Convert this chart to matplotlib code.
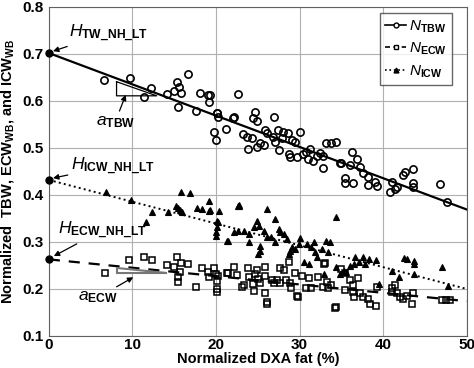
import matplotlib
matplotlib.use("Agg")
import matplotlib.pyplot as plt
import numpy as np

plt.rcParams['font.family'] = ['Liberation Sans', 'DejaVu Sans']
plt.rcParams['mathtext.fontset'] = 'custom'
plt.rcParams['mathtext.rm'] = 'Liberation Sans'
plt.rcParams['mathtext.it'] = 'Liberation Sans:italic'
plt.rcParams['mathtext.bf'] = 'Liberation Sans:bold'

# ---- data ----
tbw_x = [6.6, 9.7, 11.4, 12.2, 14.1, 15.3, 15.6, 15.0, 15.8, 15.5, 16.7, 17.6, 18.1, 19.0, 19.1,
         19.8, 20.0, 20.1, 20.2, 21.2, 22.0, 22.6, 24.6, 24.4, 26.9, 23.2, 23.7, 24.3, 23.8, 24.9,
         25.2, 25.7, 24.9, 25.8, 26.1, 26.8, 27.0, 27.4, 27.9, 28.0, 28.6, 29.1, 29.4, 30.0, 27.5,
         28.7, 28.8, 29.7, 30.4, 30.8, 31.2, 31.0, 31.6, 32.1, 32.4, 32.8, 33.2, 33.8, 34.3, 32.8,
         34.8, 36.2, 36.8, 35.0, 36.0, 37.2, 35.4, 35.4, 36.4, 37.6, 38.2, 38.2, 39.0, 39.2, 40.8,
         41.4, 41.7, 41.0, 42.3, 42.6, 43.5, 43.5, 43.5, 46.8, 47.6, 19.3, 20.1, 22.1]
tbw_y = [0.645, 0.649, 0.608, 0.627, 0.614, 0.640, 0.630, 0.621, 0.617, 0.587, 0.657, 0.579, 0.617, 0.613, 0.598,
         0.534, 0.517, 0.574, 0.566, 0.540, 0.564, 0.615, 0.576, 0.564, 0.566, 0.530, 0.523, 0.521, 0.498, 0.502,
         0.510, 0.506, 0.557, 0.538, 0.532, 0.523, 0.513, 0.538, 0.521, 0.534, 0.532, 0.517, 0.513, 0.534, 0.496,
         0.487, 0.481, 0.481, 0.487, 0.491, 0.498, 0.477, 0.472, 0.483, 0.489, 0.483, 0.510, 0.510, 0.513, 0.457,
         0.468, 0.491, 0.476, 0.468, 0.464, 0.460, 0.436, 0.426, 0.426, 0.447, 0.438, 0.421, 0.428, 0.419, 0.406,
         0.413, 0.417, 0.428, 0.443, 0.449, 0.455, 0.426, 0.417, 0.423, 0.385, 0.613, 0.574, 0.566]

icw_x = [6.8, 9.8, 11.6, 12.3, 14.2, 15.2, 15.5, 15.7, 15.9, 15.8, 16.9, 17.7, 18.3, 19.1, 19.1,
         20.1, 20.1, 20.0, 20.0, 20.3, 21.4, 22.2, 22.6, 22.8, 26.1, 27.0, 34.3, 23.3, 23.9, 24.0,
         24.5, 24.9, 25.1, 25.2, 25.7, 26.1, 25.0, 25.2, 26.6, 27.0, 27.5, 27.6, 28.1, 28.5, 28.7,
         28.8, 29.1, 29.4, 29.9, 30.1, 30.5, 30.9, 31.1, 31.3, 31.7, 31.8, 32.1, 32.7, 33.2, 33.6,
         33.4, 34.4, 32.9, 34.8, 35.3, 35.6, 36.0, 36.5, 36.6, 37.1, 37.6, 37.8, 38.3, 39.1, 39.5,
         41.0, 41.9, 42.5, 42.8, 43.7, 43.7, 43.7, 47.0, 47.8, 22.6, 19.3, 20.2, 21.3, 22.7]
icw_y = [0.406, 0.389, 0.343, 0.364, 0.364, 0.377, 0.372, 0.368, 0.364, 0.406, 0.404, 0.372, 0.370, 0.387, 0.366,
         0.345, 0.332, 0.321, 0.313, 0.366, 0.302, 0.321, 0.377, 0.377, 0.370, 0.349, 0.353, 0.323, 0.317, 0.300,
         0.332, 0.345, 0.334, 0.292, 0.323, 0.311, 0.274, 0.281, 0.311, 0.300, 0.328, 0.321, 0.317, 0.306, 0.274,
         0.281, 0.289, 0.285, 0.296, 0.308, 0.257, 0.296, 0.253, 0.289, 0.300, 0.279, 0.268, 0.285, 0.302, 0.300,
         0.279, 0.247, 0.232, 0.232, 0.238, 0.236, 0.249, 0.253, 0.268, 0.257, 0.268, 0.253, 0.264, 0.262, 0.211,
         0.238, 0.226, 0.266, 0.264, 0.260, 0.253, 0.232, 0.247, 0.206, 0.323, 0.368, 0.343, 0.302, 0.379]

ecw_x = [6.7, 9.6, 11.4, 12.3, 14.1, 15.3, 15.0, 15.8, 15.7, 15.5, 15.4, 16.7, 17.6, 18.3, 19.0,
         19.1, 19.7, 20.0, 20.1, 20.1, 20.1, 20.2, 21.4, 22.1, 22.5, 21.3, 23.1, 23.4, 23.8, 24.0,
         24.4, 24.6, 24.9, 25.0, 25.2, 24.5, 25.8, 26.1, 25.9, 26.7, 26.9, 27.3, 27.6, 28.1, 27.7,
         28.4, 28.8, 29.0, 28.7, 29.4, 29.8, 30.3, 30.8, 31.1, 31.4, 32.2, 33.0, 32.8, 33.3, 33.4,
         35.0, 35.4, 36.0, 36.4, 37.0, 36.4, 36.5, 37.2, 37.6, 38.2, 38.4, 39.1, 39.2, 35.4, 33.8,
         34.4, 41.0, 41.0, 41.4, 41.6, 42.0, 42.3, 42.8, 43.5, 43.4, 47.0, 47.5, 48.0, 34.2, 26.1,
         29.7, 32.9, 25.9]
ecw_y = [0.234, 0.262, 0.268, 0.262, 0.251, 0.268, 0.247, 0.255, 0.236, 0.226, 0.215, 0.253, 0.204, 0.245, 0.236,
         0.226, 0.245, 0.232, 0.217, 0.200, 0.194, 0.228, 0.234, 0.247, 0.230, 0.234, 0.204, 0.209, 0.245, 0.226,
         0.211, 0.232, 0.240, 0.221, 0.213, 0.196, 0.191, 0.168, 0.228, 0.219, 0.213, 0.219, 0.245, 0.240, 0.213,
         0.219, 0.213, 0.202, 0.257, 0.234, 0.183, 0.228, 0.202, 0.223, 0.202, 0.226, 0.255, 0.204, 0.215, 0.202,
         0.243, 0.234, 0.219, 0.209, 0.223, 0.194, 0.183, 0.191, 0.183, 0.179, 0.168, 0.164, 0.204, 0.198, 0.209,
         0.162, 0.202, 0.194, 0.209, 0.191, 0.183, 0.179, 0.185, 0.191, 0.168, 0.177, 0.177, 0.177, 0.160, 0.172,
         0.185, 0.253, 0.247]

# regression lines (intercept, slope)
tbw_fit = (0.702, -0.00666)
icw_fit = (0.432, -0.00464)
ecw_fit = (0.263, -0.00178)
fit_x = [0, 50]

x_ticks = [0, 10, 20, 30, 40, 50]
y_ticks = [0.1, 0.2, 0.3, 0.4, 0.5, 0.6, 0.7, 0.8]

# ---- plot ----
fig = plt.figure(figsize=(4.74, 3.68), dpi=100)
ax = fig.add_axes([0.103, 0.087, 0.882, 0.894])

ax.grid(True, color='#b0b0b0', linewidth=0.8)
ax.set_axisbelow(True)

fx = np.array(fit_x, dtype=float)
ax.plot(fx, tbw_fit[0] + tbw_fit[1] * fx, '-', color='black', lw=1.6, zorder=3)
ax.plot(fx, icw_fit[0] + icw_fit[1] * fx, ':', color='black', lw=1.4, zorder=3)
ax.plot(fx, ecw_fit[0] + ecw_fit[1] * fx, '--', color='black', lw=1.6, dashes=(5, 4), zorder=3)

ax.plot(tbw_x, tbw_y, 'o', mfc='none', mec='black', ms=5.2, mew=1.2, zorder=4)
ax.plot(icw_x, icw_y, '^', mfc='black', mec='black', ms=4.4, mew=0.8, zorder=4)
ax.plot(ecw_x, ecw_y, 's', mfc='none', mec='black', ms=4.6, mew=1.1, zorder=4)

# intercept points
ax.plot([0, 0, 0], [tbw_fit[0], icw_fit[0], ecw_fit[0]], 'o', color='black', ms=5, zorder=5, clip_on=False)

# legend proxies
h1, = ax.plot([], [], '-o', color='black', mfc='white', ms=3.5, lw=1.2)
h2, = ax.plot([], [], '--s', color='black', mfc='white', ms=3.2, lw=1.2, dashes=(3, 2))
h3, = ax.plot([], [], ':^', color='black', mfc='black', ms=3.5, lw=1.2)
leg = ax.legend([h1, h2, h3],
                [r'$\mathit{N}_{\mathbf{TBW}}$', r'$\mathit{N}_{\mathbf{ECW}}$', r'$\mathit{N}_{\mathbf{ICW}}$'],
                loc='upper right', bbox_to_anchor=(0.964, 0.982), fontsize=11, frameon=True, fancybox=False,
                handlelength=1.4, handletextpad=0.15, borderpad=0.35, labelspacing=0.4, borderaxespad=0.0)
leg.get_frame().set_edgecolor('#404040')
leg.get_frame().set_linewidth(1.0)

# slope triangles
ax.plot([8.1, 8.1, 12.9, 8.1], [0.641, 0.611, 0.611, 0.641], color='black', lw=0.9, zorder=3)
ax.fill([8.1, 8.1, 14.1], [0.245, 0.234, 0.234], facecolor='white', edgecolor='#777777', lw=1.5, zorder=3.5)

# annotations
ann_kw = dict(arrowprops=dict(arrowstyle='-|>', color='black', lw=0.9, mutation_scale=8,
                              shrinkA=0, shrinkB=0), fontsize=12.5)
ax.annotate(r'$\mathit{H}_{\mathbf{TW\_NH\_LT}}$', xy=(0.5, 0.706), xytext=(2.4, 0.745),
            va='center', ha='left', **ann_kw)
ax.annotate(r'$\mathit{H}_{\mathbf{ICW\_NH\_LT}}$', xy=(0.5, 0.436), xytext=(2.6, 0.462),
            va='center', ha='left', **ann_kw)
ax.annotate(r'$\mathit{H}_{\mathbf{ECW\_NH\_LT}}$', xy=(0.6, 0.270), xytext=(1.1, 0.325),
            va='center', ha='left', **ann_kw)
ax.annotate(r'$\mathit{a}_{\mathbf{TBW}}$', xy=(9.2, 0.613), xytext=(5.6, 0.556),
            va='center', ha='left', **ann_kw)
ax.annotate(r'$\mathit{a}_{\mathbf{ECW}}$', xy=(10.1, 0.225), xytext=(3.5, 0.182),
            va='center', ha='left', **ann_kw)

ax.set_xlim(0, 50)
ax.set_ylim(0.1, 0.8)
ax.set_xticks(x_ticks)
ax.set_yticks(y_ticks)
ax.set_xticklabels([str(v) for v in x_ticks], fontweight='bold', fontsize=11)
ax.set_yticklabels([f'{v:.1f}' for v in y_ticks], fontweight='bold', fontsize=11)
ax.tick_params(axis='y', length=0, pad=4)
ax.tick_params(axis='x', length=0, pad=1.5)
for s in ax.spines.values():
    s.set_color('#606060')
    s.set_linewidth(0.8)

ax.set_xlabel('Normalized DXA fat (%)', fontweight='bold', fontsize=10.5, labelpad=0)
ax.set_ylabel(r'Normalized  TBW, ECW$_{\mathbf{WB}}$, and ICW$_{\mathbf{WB}}$', fontweight='bold',
              fontsize=10.5, labelpad=4)

fig.savefig('out.png', dpi=100)
